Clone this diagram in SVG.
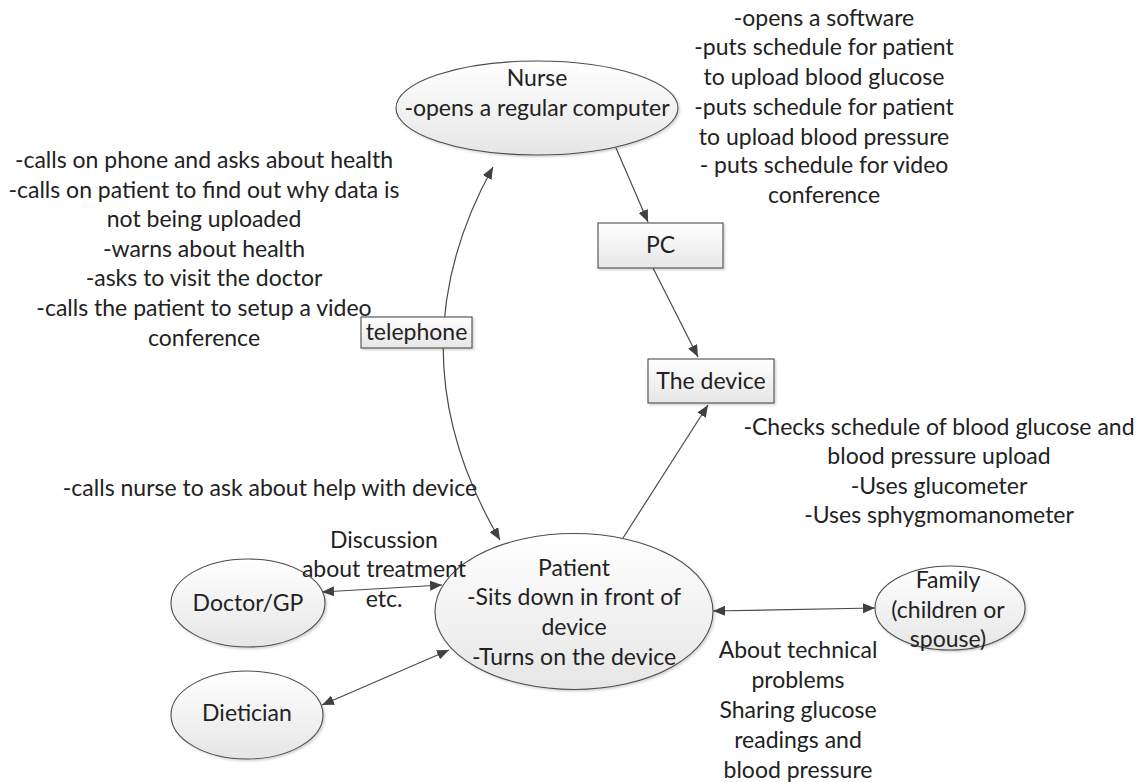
<svg xmlns="http://www.w3.org/2000/svg" width="1148" height="782" viewBox="0 0 1148 782">
  <style>
    text { font-family: Lato, "Liberation Sans", sans-serif; font-size: 23px; fill: #222222; text-anchor: middle; }
    .node { fill: url(#fade); stroke: #4d4d4d; stroke-width: 1.1; filter: url(#shade); }
    .box { fill: url(#fade); stroke: #4d4d4d; stroke-width: 1.1; filter: url(#shade); }
    .link { fill: none; stroke: #4a4a4a; stroke-width: 1.2; }
  </style>
  <defs>
    <linearGradient id="fade" x1="0" y1="0" x2="0" y2="1">
      <stop offset="0" stop-color="#ffffff"/>
      <stop offset="1" stop-color="#e6e6e6"/>
    </linearGradient>
    <filter id="shade" x="-10%" y="-10%" width="125%" height="130%">
      <feDropShadow dx="1.5" dy="1.5" stdDeviation="1" flood-color="#000" flood-opacity="0.18"/>
    </filter>
    <marker id="tip" viewBox="0 0 12 10" refX="12" refY="5" markerWidth="12" markerHeight="10" markerUnits="userSpaceOnUse" orient="auto-start-reverse">
      <path d="M0,0 L12,5 L0,10 Z" fill="#404040"/>
    </marker>
  </defs>

  <rect width="1148" height="782" fill="#ffffff"/>

  <!-- connectors -->
  <g id="connectors">
    <path class="link" d="M616,148 L648,222" marker-end="url(#tip)"/>
    <path class="link" d="M653,268 L698,357" marker-end="url(#tip)"/>
    <path class="link" d="M623,538 L708,405" marker-end="url(#tip)"/>
    <path class="link" d="M493,167 Q390,353 500,540" marker-start="url(#tip)" marker-end="url(#tip)"/>
    <path class="link" d="M322,592 L442,585" marker-start="url(#tip)" marker-end="url(#tip)"/>
    <path class="link" d="M322,705 L449,650" marker-start="url(#tip)" marker-end="url(#tip)"/>
    <path class="link" d="M713,611 L875,608" marker-start="url(#tip)" marker-end="url(#tip)"/>
  </g>

  <!-- nurse -->
  <g id="nurse">
    <ellipse class="node" cx="537" cy="108" rx="141" ry="47"/>
    <text x="537" y="86">Nurse</text>
    <text x="537" y="116">-opens a regular computer</text>
  </g>

  <!-- nurse tasks on the software -->
  <g id="nurse-software-notes">
    <text x="824" y="26">-opens a software</text>
    <text x="824" y="55">-puts schedule for patient</text>
    <text x="824" y="85">to upload blood glucose</text>
    <text x="824" y="115">-puts schedule for patient</text>
    <text x="824" y="145">to upload blood pressure</text>
    <text x="824" y="173">- puts schedule for video</text>
    <text x="824" y="203">conference</text>
  </g>

  <!-- phone calls from the nurse -->
  <g id="phone-notes">
    <text x="204" y="168">-calls on phone and asks about health</text>
    <text x="204" y="198">-calls on patient to find out why data is</text>
    <text x="204" y="227">not being uploaded</text>
    <text x="204" y="257">-warns about health</text>
    <text x="204" y="286">-asks to visit the doctor</text>
    <text x="204" y="316">-calls the patient to setup a video</text>
    <text x="204" y="346">conference</text>
  </g>

  <g id="telephone">
    <rect class="box" x="361" y="317" width="111" height="31"/>
    <text x="416.5" y="340">telephone</text>
  </g>

  <g id="pc">
    <rect class="box" x="598" y="223" width="125" height="45"/>
    <text x="660.5" y="253">PC</text>
  </g>

  <g id="device">
    <rect class="box" x="648" y="359" width="126" height="44"/>
    <text x="711" y="389">The device</text>
  </g>

  <g id="device-notes">
    <text x="939" y="435">-Checks schedule of blood glucose and</text>
    <text x="939" y="464">blood pressure upload</text>
    <text x="939" y="494">-Uses glucometer</text>
    <text x="939" y="523">-Uses sphygmomanometer</text>
  </g>

  <g id="patient-call-note">
    <text x="270" y="496">-calls nurse to ask about help with device</text>
  </g>

  <g id="patient">
    <ellipse class="node" cx="574" cy="611.5" rx="139" ry="78"/>
    <text x="574" y="576">Patient</text>
    <text x="574" y="605">-Sits down in front of</text>
    <text x="574" y="635">device</text>
    <text x="574" y="665">-Turns on the device</text>
  </g>

  <g id="doctor">
    <ellipse class="node" cx="248" cy="603" rx="77" ry="44"/>
    <text x="248" y="611">Doctor/GP</text>
  </g>

  <g id="dietician">
    <ellipse class="node" cx="247" cy="715" rx="76" ry="44"/>
    <text x="247" y="721">Dietician</text>
  </g>

  <g id="treatment-note">
    <text x="384" y="548">Discussion</text>
    <text x="384" y="577">about treatment</text>
    <text x="384" y="607">etc.</text>
  </g>

  <g id="family">
    <ellipse class="node" cx="950" cy="608" rx="75" ry="42"/>
    <text x="948" y="588">Family</text>
    <text x="948" y="618">(children or</text>
    <text x="948" y="647">spouse)</text>
  </g>

  <g id="family-notes">
    <text x="798" y="658">About technical</text>
    <text x="798" y="688">problems</text>
    <text x="798" y="718">Sharing glucose</text>
    <text x="798" y="748">readings and</text>
    <text x="798" y="778">blood pressure</text>
  </g>
</svg>
